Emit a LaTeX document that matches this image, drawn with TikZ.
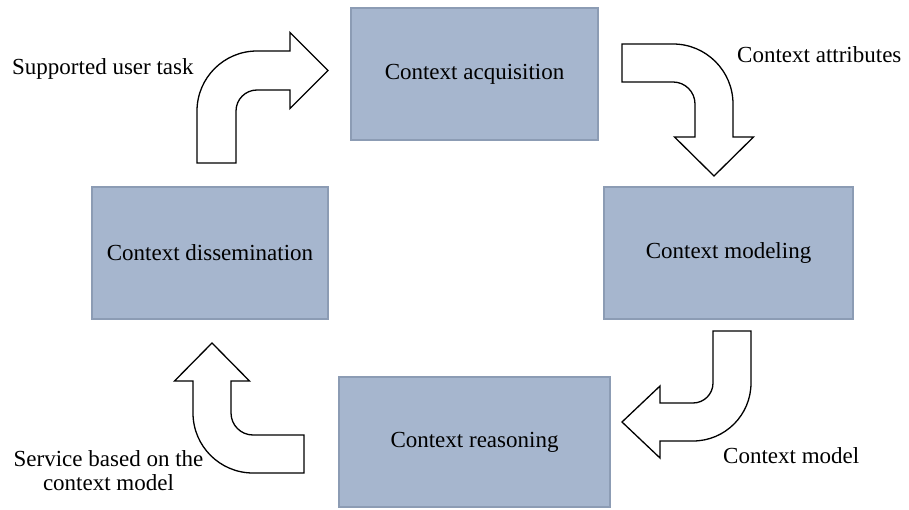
\documentclass[tikz,border=0pt]{standalone}
\usepackage{fontspec}
\setmainfont{Liberation Serif}
\usepackage{tikz}
\usetikzlibrary{calc,positioning}

\definecolor{boxfill}{HTML}{A6B6CE}
\definecolor{boxline}{HTML}{8C9CB4}

\begin{document}
\begin{tikzpicture}[x=1pt, y=1pt, every node/.style={font=\fontsize{23}{24}\selectfont},
    stage/.style={draw=boxline, line width=1.2pt, fill=boxfill, minimum height=132pt, inner sep=0pt},
    bentarrow/.style={draw=black, line width=1.3pt, fill=white, line join=miter}]

\useasboundingbox (0,0) rectangle (909,509);

% Stages of the cycle
\node[stage, minimum width=247pt] (acq) at (474.5, 435) {Context acquisition};
\node[stage, minimum width=249pt] (mod) at (728.5, 256) {Context modeling};
\node[stage, minimum width=271pt, minimum height=130pt] (rea) at (474.5, 67) {Context reasoning};
\node[stage, minimum width=236pt] (dis) at (210, 256) {Context dissemination};

% Bent arrow: dissemination -> acquisition
\draw[bentarrow] (197, 346) -- (197, 398) arc[start angle=180, end angle=90, radius=60]
    -- (290, 458) -- (290, 476.5) -- (328, 438.5) -- (290, 400.5) -- (290, 419) -- (257, 419)
    arc[start angle=90, end angle=180, radius=21] -- (236, 346) -- cycle;

% Bent arrow: acquisition -> modeling
\draw[bentarrow] (622, 465) -- (673, 465) arc[start angle=90, end angle=0, radius=60]
    -- (733, 372) -- (753.5, 372) -- (714, 333) -- (674.5, 372) -- (695, 372) -- (695, 405)
    arc[start angle=0, end angle=90, radius=22] -- (622, 427) -- cycle;

% Bent arrow: modeling -> reasoning
\draw[bentarrow] (713, 178) -- (751, 178) -- (751, 126) arc[start angle=0, end angle=-90, radius=58]
    -- (660, 68) -- (660, 51) -- (622, 87) -- (660, 123) -- (660, 106) -- (693, 106)
    arc[start angle=-90, end angle=0, radius=20] -- cycle;

% Bent arrow: reasoning -> dissemination
\draw[bentarrow] (304, 36) -- (253, 36) arc[start angle=-90, end angle=-180, radius=60]
    -- (193, 128) -- (174.5, 128) -- (212, 166) -- (249.5, 128) -- (231, 128) -- (231, 96)
    arc[start angle=180, end angle=270, radius=22] -- (304, 74) -- cycle;

% Labels
\node[anchor=base west, inner sep=0pt] (task) at (12, 434) {Supported user task};
\node[anchor=base west, inner sep=0pt] (attr) at (737, 446) {Context attributes};
\node[anchor=base west, inner sep=0pt] (model) at (723, 46) {Context model};
\node[align=center, inner sep=0pt] (service) at (108.5, 38) {Service based on the\\context model};

\end{tikzpicture}
\end{document}
